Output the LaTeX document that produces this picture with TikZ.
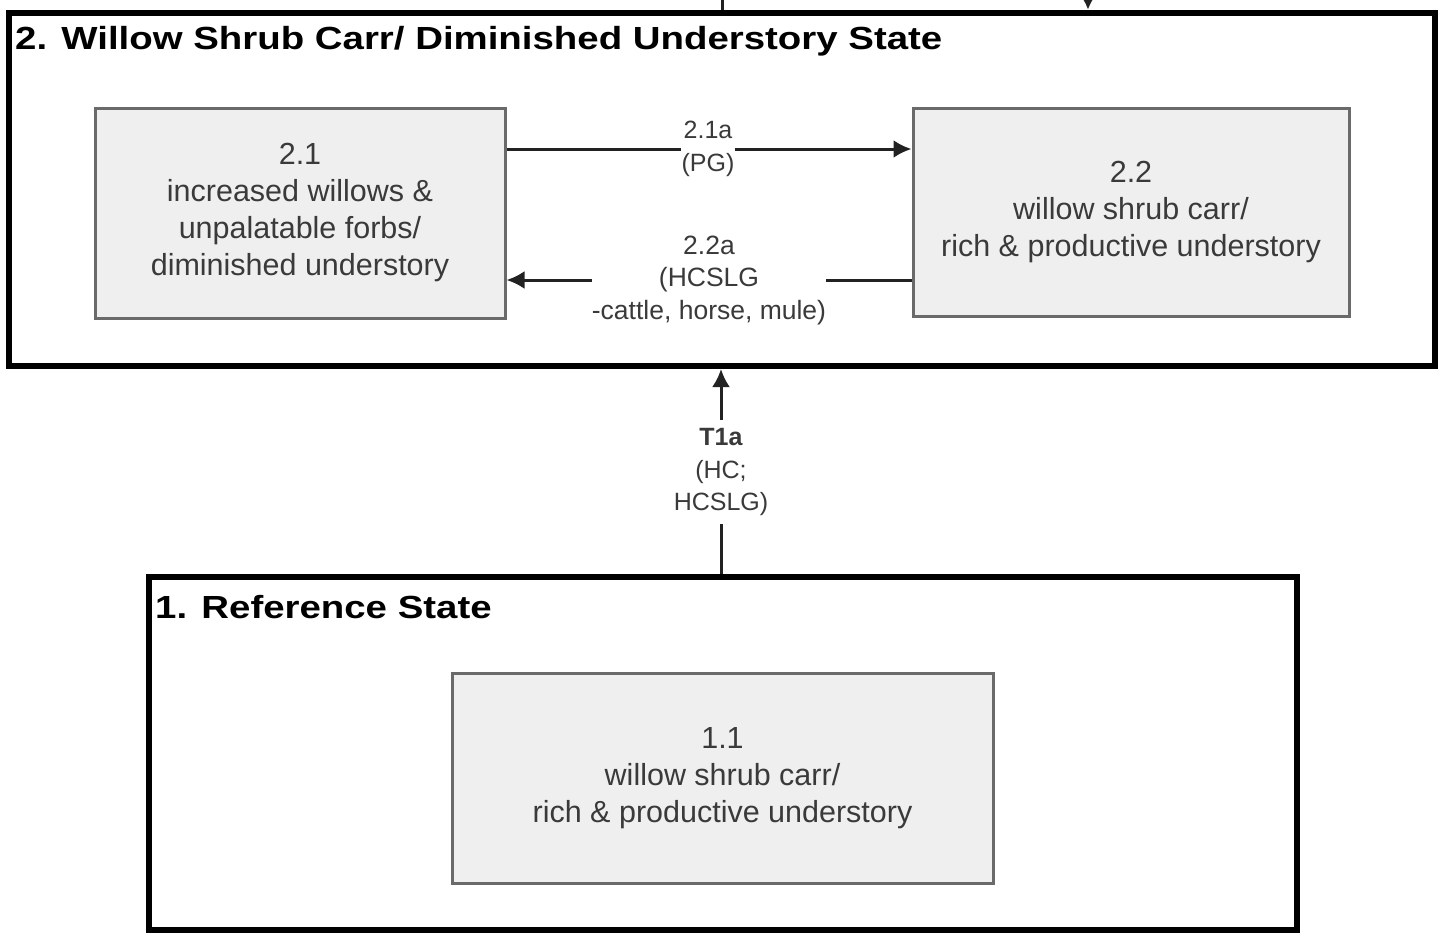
\documentclass[tikz,border=0pt]{standalone}
\usepackage{fontspec}
\setmainfont{Liberation Sans}
\usetikzlibrary{arrows.meta}
\definecolor{boxfill}{HTML}{EFEFEF}
\definecolor{boxline}{HTML}{6A6A6A}
\definecolor{txt}{HTML}{3A3A3A}
\definecolor{arr}{HTML}{222222}
\tikzset{
  statebox/.style={draw=black, line width=6pt, fill=white, rectangle, inner sep=0pt},
  phasebox/.style={draw=boxline, line width=3pt, fill=boxfill, rectangle, inner sep=0pt,
     align=center, text=txt, font=\fontsize{30.5}{37}\selectfont},
  titletext/.style={anchor=west, inner sep=0pt, text=black, font=\bfseries\fontsize{32}{38}\selectfont},
  lab/.style={align=center, inner sep=0pt, text=txt, font=\fontsize{25}{32.5}\selectfont},
  conn/.style={draw=arr, line width=3pt},
  tip/.style={-{Latex[length=18pt,width=18pt]}}
}
\begin{document}
\begin{tikzpicture}[x=1pt,y=-1pt]
\useasboundingbox (0,0) rectangle (1444,935);
% state boxes
\node[statebox, minimum width=1426pt, minimum height=353.5pt] (s2) at (722,189.25) {};
\node[statebox, minimum width=1148pt, minimum height=353pt] (s1) at (723,753.5) {};
\node[titletext] (t2) at (15,41) {\scalebox{1.2}[1]{2. Willow Shrub Carr/ Diminished Understory State}};
\node[titletext] (t1) at (155,607) {\scalebox{1.2}[1]{1. Reference State}};
% community phases
\node[phasebox, minimum width=410pt, minimum height=210pt] (p21) at (300,213)
  {2.1\\increased willows \&\\unpalatable forbs/\\diminished understory};
\node[phasebox, minimum width=436pt, minimum height=208pt] (p22) at (1131,212)
  {2.2\\willow shrub carr/\\rich \& productive understory};
\node[phasebox, minimum width=541pt, minimum height=210pt] (p11) at (722.5,778)
  {1.1\\willow shrub carr/\\rich \& productive understory};
% labels
\node[lab] (l21a) at (708,149) {2.1a\\(PG)};
\node[lab, font=\fontsize{26.5}{32.5}\selectfont] (l22a) at (709,280) {2.2a\\(HCSLG\\-cattle, horse, mule)};
\node[lab] (lt1a) at (721,472) {\textbf{T1a}\\(HC;\\HCSLG)};
% connectors
\draw[conn] (p21.east |- l21a) -- (l21a.west);
\draw[conn, tip] (l21a.east) -- (p22.west |- l21a);
\draw[conn] (p22.west |- l22a) -- (l22a.east);
\draw[conn, tip] (l22a.west) -- (p21.east |- l22a);
\draw[conn] (s1.north -| lt1a) -- ([yshift=-8pt]lt1a.south);
\draw[conn, tip] ([yshift=8pt]lt1a.north) -- (s2.south -| lt1a);
% connectors leaving the picture at the top
\coordinate (topA) at (722,-2);
\coordinate (topB) at (1088,-8);
\draw[conn] (s2.north -| topA) -- (topA);
\draw[conn, -{Latex[length=14pt,width=16pt]}] (topB) -- (s2.north -| topB);
\end{tikzpicture}
\end{document}
